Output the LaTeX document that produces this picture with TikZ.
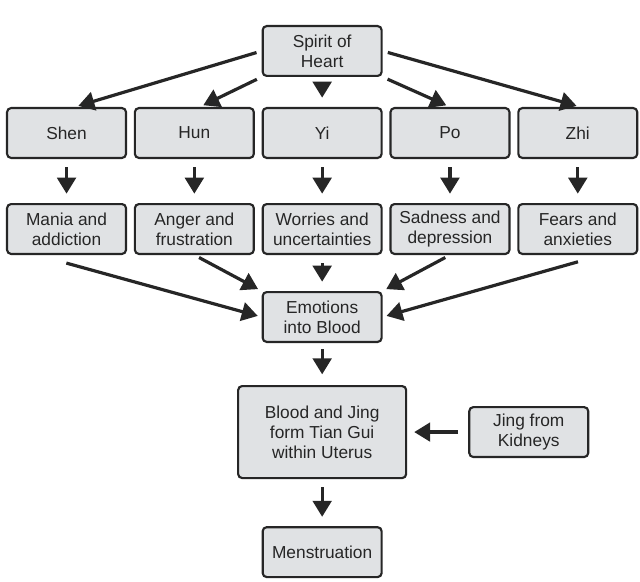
\documentclass[tikz,border=0pt]{standalone}
\usepackage{fontspec}
\setmainfont{Liberation Sans}
\usepackage{xcolor}
\usetikzlibrary{arrows.meta,positioning}
\definecolor{cellgray}{HTML}{E0E2E4}
\definecolor{inkgray}{HTML}{262626}

\begin{document}
\begin{tikzpicture}[
 font=\fontsize{13}{15}\selectfont,
 cell/.style={rounded corners=3pt,line width=1.6pt,draw=inkgray,fill=cellgray,
 minimum width=89.2pt,minimum height=37.4pt,align=center,inner sep=2pt,text=inkgray},
 flow/.style={-{Triangle[length=12pt,width=14pt]},draw=inkgray,line width=2.4pt,
 shorten <=4pt,shorten >=3pt},
 drop/.style={flow,shorten <=6pt,shorten >=7pt}]
\node[cell] (shen) {Shen};
\node[cell,right=5.06pt of shen] (hun) {Hun};
\node[cell,right=5.06pt of hun] (yi) {Yi};
\node[cell,right=5.06pt of yi] (po) {Po};
\node[cell,right=5.06pt of po] (zhi) {Zhi};
\node[cell,above=22.5pt of yi] (spirit) {Spirit of\\Heart};
\node[cell,below=33pt of shen] (mania) {Mania and\\addiction};
\node[cell,below=33pt of hun] (anger) {Anger and\\frustration};
\node[cell,below=33pt of yi] (worry) {Worries and\\uncertainties};
\node[cell,below=33pt of po] (sad) {Sadness and\\depression};
\node[cell,below=33pt of zhi] (fear) {Fears and\\anxieties};
\node[cell,below=27pt of worry] (emo) {Emotions\\into Blood};
\node[cell,minimum width=126pt,minimum height=69pt,below=31.5pt of emo] (blood) {Blood and Jing\\form Tian Gui\\within Uterus};
\node[cell,right=45.75pt of blood] (jing) {Jing from\\Kidneys};
\node[cell,below=35.25pt of blood] (mens) {Menstruation};
\useasboundingbox (-49.9pt,99.75pt) rectangle (430.1pt,-336.75pt);
\draw[flow] (spirit.west)--([xshift=6pt]shen.north);
\draw[flow] (spirit.south west)--([xshift=4pt]hun.north);
\draw[drop] (spirit)--(yi);
\draw[flow] (spirit.south east)--(po.north);
\draw[flow] (spirit.east)--([xshift=2pt]zhi.north);
\foreach \a/\b in {shen/mania,hun/anger,yi/worry,po/sad,zhi/fear}
 \draw[drop] (\a)--(\b);
\draw[flow] ([xshift=-4pt,yshift=-5pt]mania.south)--(emo.west);
\draw[flow] (anger.south)--(emo.north west);
\draw[drop] (worry)--(emo);
\draw[flow] (sad.south)--(emo.north east);
\draw[flow] ([xshift=4pt,yshift=-4pt]fear.south)--(emo.east);
\draw[drop,shorten <=4.5pt,shorten >=8pt] (emo)--(blood);
\draw[drop,shorten <=7.5pt,shorten >=5.25pt] (jing)--(blood);
\draw[drop] (blood)--(mens);
\end{tikzpicture}
\end{document}
